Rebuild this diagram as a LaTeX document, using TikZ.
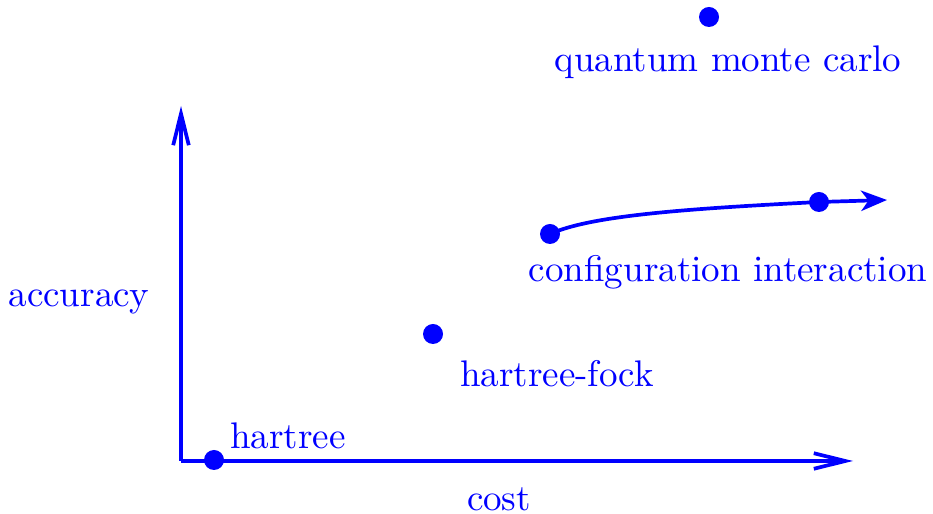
\documentclass[tikz,border=0pt]{standalone}
\usetikzlibrary{arrows.meta}
\begin{document}
\begin{tikzpicture}[x=0.27pt,y=-0.27pt,
  every node/.style={text=blue},
  axis/.style={draw=blue,line width=1pt,-{Straight Barb[length=8.5pt,width=4.2pt]}},
  curve/.style={draw=blue,line width=1pt,-{Stealth[length=7pt,width=5.5pt,inset=2pt]}},
  dot/.style={circle,fill=blue,inner sep=0pt,minimum size=5.4pt}]
\useasboundingbox (0,0) rectangle (933,514);
\coordinate (o) at (181,461);
\coordinate (ytop) at (181,106);
\coordinate (xend) at (853,461);
\coordinate (cend) at (887,200);
\draw[axis] (o) -- (ytop);
\draw[axis] (o) -- (xend);
\node[dot] (h) at (214,460) {};
\node[dot] (hf) at (433,334) {};
\node[dot] (ci) at (550,234) {};
\node[dot] (ci2) at (819,202) {};
\node[dot] (qmc) at (709,17) {};
\draw[curve] (ci.center) .. controls (590,216) and (680,209) .. (ci2.center) -- (cend);
\node (acc) at (79,302) {accuracy};
\node (cost) at (499,499) {cost};
\node[anchor=west] (hl) at (217,436) {hartree};
\node (hfl) at (557,374) {hartree-fock};
\node (cil) at (728,272) {configuration interaction};
\node (qmcl) at (728,62) {quantum monte carlo};
\end{tikzpicture}
\end{document}
